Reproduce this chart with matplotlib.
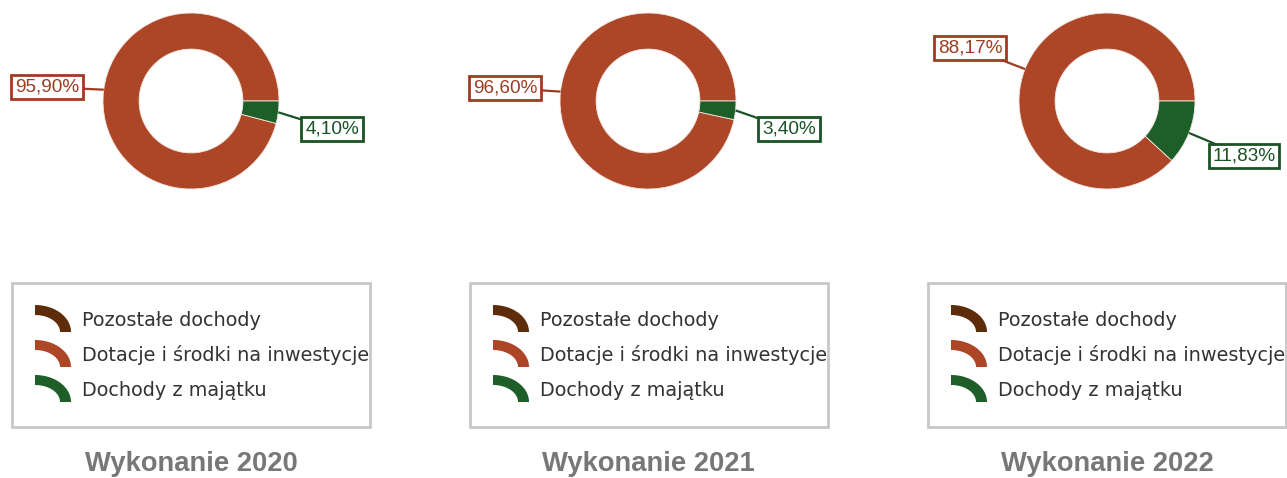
import numpy as np
import matplotlib
matplotlib.use("Agg")
import matplotlib.pyplot as plt
from matplotlib.patches import Polygon, Rectangle

# ---- data ----
categories = ["Pozostałe dochody", "Dotacje i środki na inwestycje", "Dochody z majątku"]
titles = ["Wykonanie 2020", "Wykonanie 2021", "Wykonanie 2022"]
values_2020 = [0.0, 95.90, 4.10]
values_2021 = [0.0, 96.60, 3.40]
values_2022 = [0.0, 88.17, 11.83]
label_texts_2020 = [None, "95,90%", "4,10%"]
label_texts_2021 = [None, "96,60%", "3,40%"]
label_texts_2022 = [None, "88,17%", "11,83%"]

colors = ["#5E2C08", "#AD4527", "#1E5E29"]
label_colors = ["#5E2C08", "#9E3B22", "#1B5226"]

W, H = 1287, 478
fig = plt.figure(figsize=(W / 100, H / 100), dpi=100)

centers_x = [191, 648, 1107]
cy = 101
R = 88
half = 100
# label box offsets (pixels, x right, y down) per chart per category
label_offsets = [
    [None, (-144, -14), (141, 28)],
    [None, (-143, -13), (141, 28)],
    [None, (-137, -53), (137, 55)],
]
all_values = [values_2020, values_2021, values_2022]
all_labels = [label_texts_2020, label_texts_2021, label_texts_2022]

wedge_sets = []
for i, cx in enumerate(centers_x):
    ax = fig.add_axes([(cx - half) / W, (H - cy - half) / H, 2 * half / W, 2 * half / H])
    wedges, _ = ax.pie(all_values[i], colors=colors, startangle=0, counterclock=True,
                       radius=1.0,
                       wedgeprops=dict(width=0.41, edgecolor="#f2e6e0", linewidth=0.6))
    lim = half / R
    ax.set_xlim(-lim, lim)
    ax.set_ylim(-lim, lim)
    ax.set_aspect("equal")
    ax.axis("off")
    wedge_sets.append(wedges)

ov = fig.add_axes([0, 0, 1, 1])
ov.set_xlim(0, W)
ov.set_ylim(H, 0)
ov.axis("off")
ov.patch.set_visible(False)

for i, cx in enumerate(centers_x):
    for j, w in enumerate(wedge_sets[i]):
        txt = all_labels[i][j]
        if txt is None or all_values[i][j] <= 0:
            continue
        mid = np.deg2rad((w.theta1 + w.theta2) / 2)
        ex, ey = cx + R * np.cos(mid), cy - R * np.sin(mid)
        dx, dy = label_offsets[i][j]
        bx, by = cx + dx, cy + dy
        ov.plot([ex, bx], [ey, by], color=label_colors[j], lw=1.6, zorder=3,
                solid_capstyle="butt")
        ov.text(bx, by, txt, ha="center", va="center", fontsize=13.7,
                family="Liberation Sans", color=label_colors[j], zorder=5,
                bbox=dict(boxstyle="square,pad=0.2", fc="white",
                          ec=label_colors[j], lw=2))


def legend_icon(x0, y_bottom, color):
    # elliptical quarter ring, from top-left to bottom-right
    rx, ry, th = 36, 27, 11
    t = np.linspace(np.pi / 2, 0, 40)
    outer = np.column_stack([x0 + rx * np.cos(t), y_bottom - ry * np.sin(t)])
    inner = np.column_stack([x0 + (rx - th) * np.cos(t[::-1]),
                             y_bottom - (ry - th + 1) * np.sin(t[::-1])])
    ov.add_patch(Polygon(np.vstack([outer, inner]), closed=True, fc=color,
                         ec="none", zorder=3))


# legends
legend_left = [12, 470, 928]
for i, lx in enumerate(legend_left):
    ov.add_patch(Rectangle((lx, 283), 358, 144, fill=False, ec="#C8C8C8", lw=2, zorder=2))
    for k, cat in enumerate(categories):
        top = 305 + 35 * k
        legend_icon(lx + 23, top + 27, colors[k])
        ov.text(lx + 70, top + 21, cat, ha="left", va="baseline", fontsize=13.9,
                family="DejaVu Sans", color="#333333", zorder=3)
    ov.text(centers_x[i], 471, titles[i], ha="center", va="baseline", fontsize=19.7,
            family="Liberation Sans", fontweight="bold", color="#777777")

fig.savefig("out.png", dpi=100, facecolor="white")
